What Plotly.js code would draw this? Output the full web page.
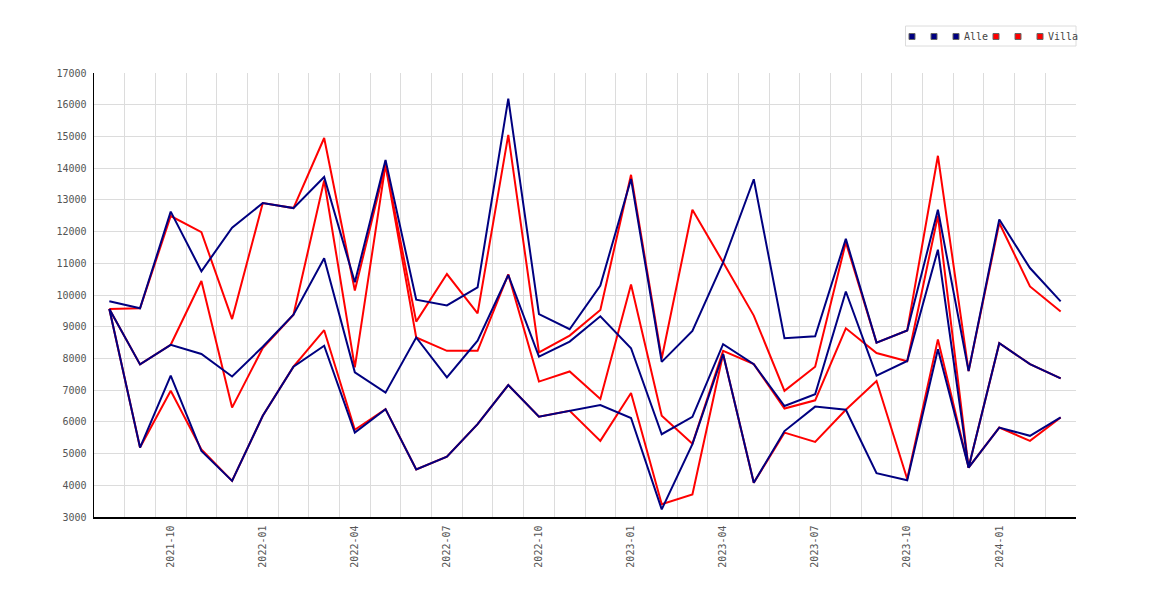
<!DOCTYPE html>
<html>
<head>
<meta charset="utf-8">
<script src="https://cdn.plot.ly/plotly-3.0.1.min.js"></script>
<style>
  body { margin: 0; background: #fff; }
  #chart { width: 1170px; height: 600px; }
</style>
</head>
<body>
<div id="chart"></div>
<script>
const months = [
  "2021-08", "2021-09", "2021-10", "2021-11", "2021-12",
  "2022-01", "2022-02", "2022-03", "2022-04", "2022-05", "2022-06",
  "2022-07", "2022-08", "2022-09", "2022-10", "2022-11", "2022-12",
  "2023-01", "2023-02", "2023-03", "2023-04", "2023-05", "2023-06",
  "2023-07", "2023-08", "2023-09", "2023-10", "2023-11", "2023-12",
  "2024-01", "2024-02", "2024-03"
];
const tickMonths = ["2021-10", "2022-01", "2022-04", "2022-07", "2022-10",
  "2023-01", "2023-04", "2023-07", "2023-10", "2024-01"];

const alleHigh = [9800, 9580, 12630, 10750, 12120, 12900, 12740, 13720, 10400, 14260,
  9850, 9670, 10240, 16190, 9400, 8920, 10300, 13660, 7890, 8870,
  11030, 13650, 8640, 8700, 11770, 8500, 8880, 12690, 7600, 12380, 10850, 9800];
const alleMid = [9560, 7810, 8430, 8140, 7430, 8370, 9380, 11160, 7560, 6920,
  8660, 7400, 8560, 10630, 8060, 8530, 9330, 8320, 5610, 6160,
  8450, 7820, 6500, 6870, 10110, 7460, 7920, 11430, 4560, 8480, 7820, 7370];
const alleLow = [9560, 5190, 7460, 5080, 4140, 6190, 7740, 8400, 5660, 6400,
  4500, 4900, 5930, 7160, 6160, 6350, 6530, 6120, 3240, 5300,
  8140, 4080, 5710, 6480, 6380, 4380, 4160, 8290, 4560, 5820, 5560, 6140];

const villaHigh = [9560, 9580, 12490, 11980, 9240, 12900, 12740, 14950, 10140, 14120,
  9160, 10660, 9420, 15050, 8190, 8720, 9530, 13790, 8000, 12690,
  11030, 9350, 6980, 7740, 11660, 8500, 8880, 14390, 7600, 12270, 10270, 9480];
const villaMid = [9560, 7810, 8430, 10440, 6450, 8330, 9380, 13610, 7720, 14100,
  8660, 8240, 8240, 10650, 7270, 7590, 6720, 10330, 6190, 5310,
  8240, 7820, 6420, 6680, 8950, 8170, 7910, 12500, 4560, 8480, 7820, 7370];
const villaLow = [9560, 5190, 6980, 5130, 4140, 6190, 7740, 8890, 5750, 6400,
  4500, 4900, 5930, 7160, 6160, 6350, 5400, 6910, 3400, 3710,
  8140, 4080, 5660, 5370, 6380, 7290, 4200, 8600, 4560, 5820, 5400, 6140];

const NAVY = "#000080";
const RED = "#ff0000";
const FONT = "DejaVu Sans Mono";

const xs = months.map((m, i) => i);

function line(y, color) {
  return {
    x: xs, y: y, type: "scatter", mode: "lines",
    line: { color: color, width: 2 },
    showlegend: false, hoverinfo: "skip"
  };
}

// red drawn first, navy on top
const traces = [
  line(villaHigh, RED), line(villaMid, RED), line(villaLow, RED),
  line(alleHigh, NAVY), line(alleMid, NAVY), line(alleLow, NAVY)
];

// plot box in pixels, used to place the hand drawn legend
const L = 94, T = 73, W = 982, H = 444;
const px = x => (x - L) / W;
const py = y => (T + H - y) / H;

const legendItems = [
  { color: NAVY, x: 912, label: "" }, { color: NAVY, x: 934, label: "" },
  { color: NAVY, x: 956, label: "Alle" },
  { color: RED, x: 996, label: "" }, { color: RED, x: 1018, label: "" },
  { color: RED, x: 1040, label: "Villa" }
];

const shapes = [{
  type: "rect", xref: "paper", yref: "paper",
  x0: px(905.5), x1: px(1076), y0: py(46), y1: py(26),
  line: { color: "#dcdcdc", width: 1 }, fillcolor: "#fff"
}];
const annotations = [];
legendItems.forEach(it => {
  shapes.push({
    type: "rect", xref: "paper", yref: "paper",
    x0: px(it.x - 3), x1: px(it.x + 3), y0: py(39.5), y1: py(33.5),
    line: { color: "#666", width: 1 }, fillcolor: it.color
  });
  if (it.label) {
    annotations.push({
      text: it.label, xref: "paper", yref: "paper",
      x: px(it.x + 6), y: py(37), xanchor: "left", yanchor: "middle",
      showarrow: false, font: { family: FONT, size: 10, color: "#444" }
    });
  }
});

const layout = {
  width: 1170, height: 600,
  margin: { l: L, r: 1170 - L - W, t: T, b: 600 - T - H, pad: 0 },
  paper_bgcolor: "#fff", plot_bgcolor: "#fff",
  font: { family: FONT, size: 10, color: "#555" },
  showlegend: false,
  xaxis: {
    range: [-0.5, 31.5],
    tickmode: "array",
    tickvals: tickMonths.map(m => months.indexOf(m)),
    ticktext: tickMonths,
    tickangle: -90,
    ticks: "outside", ticklen: 3, tickcolor: "rgba(0,0,0,0)",
    showgrid: false, zeroline: false,
    showline: true, linecolor: "#000", linewidth: 1.5,
    minor: { tickmode: "linear", tick0: 0.5, dtick: 1, showgrid: true,
             gridcolor: "#dcdcdc", gridwidth: 1, ticks: "" },
    fixedrange: true
  },
  yaxis: {
    range: [3000, 17000],
    dtick: 1000, tick0: 3000,
    tickformat: "d",
    ticks: "outside", ticklen: 4, tickcolor: "rgba(0,0,0,0)",
    showgrid: true, gridcolor: "#dcdcdc", gridwidth: 1,
    zeroline: false,
    showline: true, linecolor: "#000", linewidth: 1.5,
    fixedrange: true
  },
  shapes: shapes,
  annotations: annotations
};

Plotly.newPlot("chart", traces, layout, { displayModeBar: false, staticPlot: true });
</script>
</body>
</html>
